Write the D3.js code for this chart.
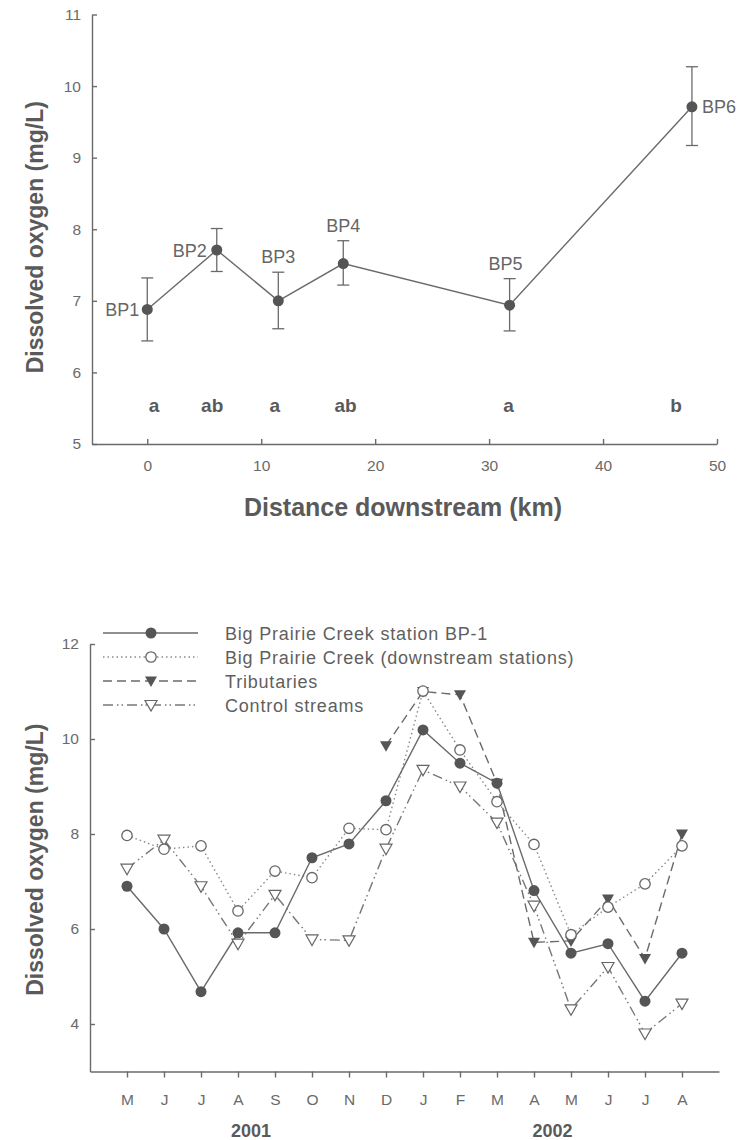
<!DOCTYPE html>
<html><head><meta charset="utf-8">
<script src="https://cdn.jsdelivr.net/npm/d3@7"></script>
<style>
body{margin:0;background:#fff}
svg{display:block;font-family:"Liberation Sans",Arial,Helvetica,sans-serif}
</style>
</head><body>
<svg id="c" width="751" height="1140"></svg>
<script>
// Panel A: mean dissolved oxygen at each station along Big Prairie Creek
const stations = ["BP1", "BP2", "BP3", "BP4", "BP5", "BP6"];
const distanceKm = [0, 6.1, 11.5, 17.2, 31.8, 47.8];
const meanDO = [6.88, 7.71, 7.00, 7.52, 6.94, 9.71];
const lowerDO = [6.44, 7.41, 6.61, 7.22, 6.58, 9.17];
const upperDO = [7.32, 8.01, 7.40, 7.84, 7.31, 10.27];
const groupLetters = ["a", "ab", "a", "ab", "a", "b"];
const letterKm = [0.6, 5.7, 11.2, 17.4, 31.7, 46.4];
const topYTicks = [5, 6, 7, 8, 9, 10, 11];
const topXTicks = [0, 10, 20, 30, 40, 50];

// Panel B: monthly dissolved oxygen, May 2001 - Aug 2002
const months = ["M", "J", "J", "A", "S", "O", "N", "D", "J", "F", "M", "A", "M", "J", "J", "A"];
const years = ["2001", "2002"];
const yearCenters = [3.35, 11.5];   // month index at which each year label sits
const bp1 = [6.90, 6.00, 4.68, 5.92, 5.92, 7.50, 7.79, 8.70, 10.19, 9.49, 9.07, 6.81, 5.49, 5.69, 4.48, 5.49];
const downstream = [7.97, 7.68, 7.75, 6.38, 7.22, 7.08, 8.12, 8.09, 11.01, 9.77, 8.68, 7.78, 5.88, 6.46, 6.95, 7.75];
const tributaries = [null, null, null, null, null, null, null, 9.86, 11.00, 10.93, 9.07, 5.72, 5.75, 6.63, 5.38, 8.00];
const control = [7.27, 7.88, 6.90, 5.69, 6.72, 5.78, 5.76, 7.69, 9.35, 9.00, 8.24, 6.49, 4.31, 5.20, 3.80, 4.43];
const bottomYTicks = [4, 6, 8, 10, 12];
const seriesNames = [
  "Big Prairie Creek station BP-1",
  "Big Prairie Creek (downstream stations)",
  "Tributaries",
  "Control streams"
];

const INK = "#5a5a5a";
const LINE = "#6a6a6a";
const svg = d3.select("#c");

function styleAxis(g, size) {
  g.selectAll("path,line").attr("stroke", LINE).attr("stroke-width", 1.4);
  g.selectAll("text").attr("fill", "#6a6a6a").attr("font-size", size)
    .attr("font-family", "Liberation Sans, Arial, sans-serif");
}

// ---------- Panel A ----------
const xA = d3.scaleLinear().domain([-4.85, 50]).range([92, 717]);
const yA = d3.scaleLinear().domain([5, 11]).range([444, 14.5]);

svg.append("g").attr("transform", `translate(${xA.range()[0]},0)`)
  .call(d3.axisLeft(yA).tickValues(topYTicks).tickFormat(d3.format("d"))
    .tickSizeInner(-5).tickSizeOuter(0).tickPadding(11))
  .call(g => styleAxis(g, 15.5));

svg.append("g").attr("transform", `translate(0,${yA(5)})`)
  .call(d3.axisBottom(xA).tickValues(topXTicks).tickFormat(d3.format("d"))
    .tickSizeInner(-5).tickSizeOuter(0).tickPadding(16))
  .call(g => styleAxis(g, 15.5));

const ptsA = stations.map((s, i) => ({
  s, x: distanceKm[i], m: meanDO[i], lo: lowerDO[i], hi: upperDO[i]
}));

// error bars
const eb = svg.append("g").attr("stroke", LINE).attr("stroke-width", 1.3);
ptsA.forEach(p => {
  eb.append("line").attr("x1", xA(p.x)).attr("x2", xA(p.x)).attr("y1", yA(p.lo)).attr("y2", yA(p.hi));
  eb.append("line").attr("x1", xA(p.x) - 6).attr("x2", xA(p.x) + 6).attr("y1", yA(p.lo)).attr("y2", yA(p.lo));
  eb.append("line").attr("x1", xA(p.x) - 6).attr("x2", xA(p.x) + 6).attr("y1", yA(p.hi)).attr("y2", yA(p.hi));
});

svg.append("path").datum(ptsA)
  .attr("fill", "none").attr("stroke", LINE).attr("stroke-width", 1.4)
  .attr("d", d3.line().x(d => xA(d.x)).y(d => yA(d.m)));

svg.append("g").selectAll("circle").data(ptsA).join("circle")
  .attr("cx", d => xA(d.x)).attr("cy", d => yA(d.m)).attr("r", 5.5).attr("fill", "#555");

// station labels
const labelPlace = {
  BP1: { anchor: "end", dx: -8, at: "mid" },
  BP2: { anchor: "end", dx: -10, at: "mid" },
  BP3: { anchor: "middle", dx: 0, at: "top" },
  BP4: { anchor: "middle", dx: 0, at: "top" },
  BP5: { anchor: "middle", dx: -4, at: "top" },
  BP6: { anchor: "start", dx: 10, at: "mid" }
};
svg.append("g").selectAll("text").data(ptsA).join("text")
  .attr("x", d => xA(d.x) + labelPlace[d.s].dx)
  .attr("y", d => labelPlace[d.s].at === "top" ? yA(d.hi) - 9 : yA(d.m) + 6.5)
  .attr("text-anchor", d => labelPlace[d.s].anchor)
  .attr("font-size", 18).attr("fill", "#666")
  .text(d => d.s);

// group letters
svg.append("g").selectAll("text").data(groupLetters).join("text")
  .attr("x", (d, i) => xA(letterKm[i])).attr("y", yA(5.55) + 7)
  .attr("text-anchor", "middle").attr("font-size", 19).attr("font-weight", "bold")
  .attr("fill", INK).text(d => d);

svg.append("text").attr("transform", `translate(43,${(yA(5) + yA(11)) / 2 + 8}) rotate(-90)`)
  .attr("text-anchor", "middle").attr("font-size", 23).attr("font-weight", "bold")
  .attr("fill", INK).text("Dissolved oxygen (mg/L)");

svg.append("text").attr("x", 403).attr("y", 516)
  .attr("text-anchor", "middle").attr("font-size", 25).attr("font-weight", "bold")
  .attr("fill", INK).text("Distance downstream (km)");

// ---------- Panel B ----------
const xB = d3.scaleLinear().domain([-1, 16]).range([90, 719]);
const yB = d3.scaleLinear().domain([3, 12]).range([1071.5, 644]);
const idx = d3.range(months.length);

svg.append("g").attr("transform", `translate(${xB(-1)},0)`)
  .call(d3.axisLeft(yB).tickValues(bottomYTicks).tickFormat(d3.format("d"))
    .tickSizeInner(-5).tickSizeOuter(0).tickPadding(11))
  .call(g => styleAxis(g, 15.5));

svg.append("g").attr("transform", `translate(0,${yB(3)})`)
  .call(d3.axisBottom(xB).tickValues(idx).tickFormat(i => months[i])
    .tickSizeInner(6).tickSizeOuter(0).tickPadding(16))
  .call(g => styleAxis(g, 15.5));

svg.append("g").selectAll("text").data(years).join("text")
  .attr("x", (d, i) => xB(yearCenters[i])).attr("y", 1137)
  .attr("text-anchor", "middle").attr("font-size", 18).attr("font-weight", "bold")
  .attr("fill", INK).text(d => d);

svg.append("text").attr("transform", `translate(43,${(yB(3) + yB(12)) / 2 + 2}) rotate(-90)`)
  .attr("text-anchor", "middle").attr("font-size", 23).attr("font-weight", "bold")
  .attr("fill", INK).text("Dissolved oxygen (mg/L)");

const triDown = "M-6,-4.5L6,-4.5L0,6Z";
const series = [
  { name: seriesNames[0], vals: bp1, dash: null, stroke: LINE, marker: "circle", fill: "#555" },
  { name: seriesNames[1], vals: downstream, dash: "1.5,3", stroke: "#8a8a8a", marker: "circle", fill: "#fff" },
  { name: seriesNames[2], vals: tributaries, dash: "9,5", stroke: LINE, marker: "tri", fill: "#555" },
  { name: seriesNames[3], vals: control, dash: "10,4,1.5,3,1.5,4", stroke: "#777", marker: "tri", fill: "#fff" }
];

function drawMarker(g, type, fill, x, y) {
  if (type === "circle") {
    g.append("circle").attr("cx", x).attr("cy", y).attr("r", fill === "#fff" ? 5.2 : 5.5)
      .attr("fill", fill).attr("stroke", fill === "#fff" ? "#666" : "none").attr("stroke-width", 1.3);
  } else {
    g.append("path").attr("d", triDown).attr("transform", `translate(${x},${y})`)
      .attr("fill", fill).attr("stroke", fill === "#fff" ? "#666" : "none").attr("stroke-width", 1.2);
  }
}

const lineB = d3.line().defined(d => d.v !== null).x(d => xB(d.i)).y(d => yB(d.v));
// draw back to front: control, tributaries, downstream, BP-1
[3, 2, 1, 0].forEach(k => {
  const s = series[k];
  const data = s.vals.map((v, i) => ({ i, v }));
  svg.append("path").datum(data).attr("fill", "none").attr("stroke", s.stroke)
    .attr("stroke-width", 1.4).attr("stroke-dasharray", s.dash).attr("d", lineB);
});
[3, 2, 1, 0].forEach(k => {
  const s = series[k];
  const g = svg.append("g");
  s.vals.forEach((v, i) => { if (v !== null) drawMarker(g, s.marker, s.fill, xB(i), yB(v)); });
});

// legend
const legend = svg.append("g");
series.forEach((s, k) => {
  const y = 633 + k * 24;
  legend.append("line").attr("x1", 103).attr("x2", 198).attr("y1", y).attr("y2", y)
    .attr("stroke", s.stroke).attr("stroke-width", 1.4).attr("stroke-dasharray", s.dash);
  drawMarker(legend, s.marker, s.fill, 151, y);
  legend.append("text").attr("x", 225).attr("y", y + 6.5).attr("font-size", 18)
    .attr("letter-spacing", 0.8).attr("fill", "#5f5f5f").text(s.name);
});
</script>
</body></html>
